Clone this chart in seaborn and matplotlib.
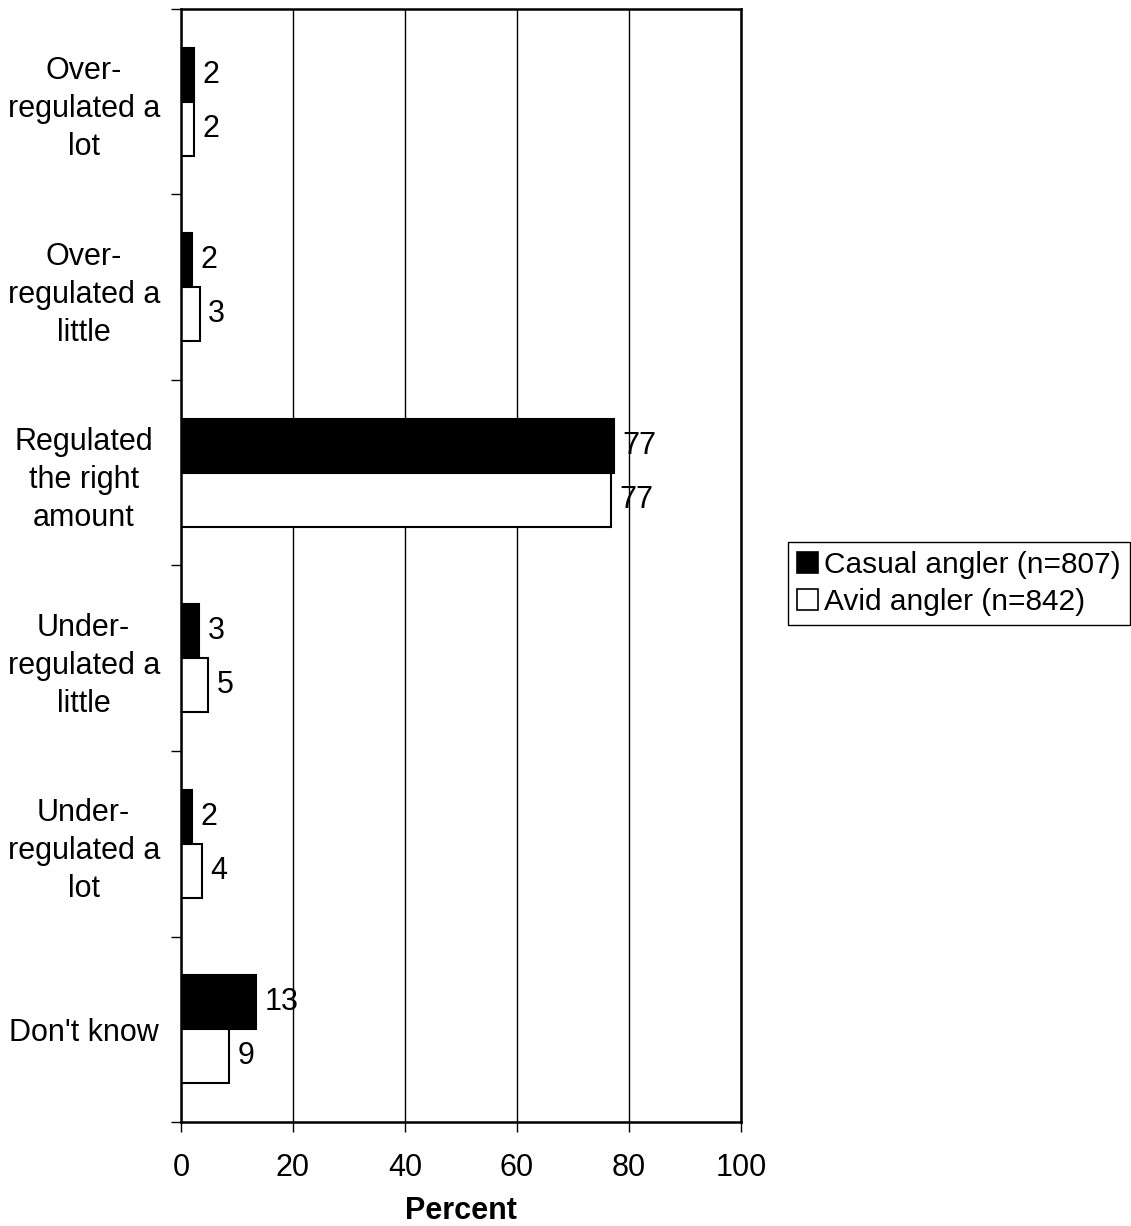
import pandas as pd
import numpy as np
import matplotlib
matplotlib.use('Agg')
import matplotlib.pyplot as plt
import seaborn as sns
from matplotlib.patches import Patch

sns.set_style("white")
plt.rcParams['font.family'] = ['Liberation Sans', 'DejaVu Sans']
plt.rcParams['text.color'] = 'black'
plt.rcParams['xtick.color'] = 'black'
plt.rcParams['ytick.color'] = 'black'
plt.rcParams['axes.labelcolor'] = 'black'

categories = ['Over-\nregulated a\nlot', 'Over-\nregulated a\nlittle', 'Regulated\nthe right\namount',
              'Under-\nregulated a\nlittle', 'Under-\nregulated a\nlot', "Don't know"]
casual = [2.4, 2.0, 77.4, 3.3, 2.0, 13.4]
avid = [2.4, 3.4, 76.9, 4.9, 3.7, 8.6]
groups = ['Casual angler (n=807)', 'Avid angler (n=842)']

df = pd.DataFrame({
    'cat': categories * 2,
    'val': casual + avid,
    'grp': [groups[0]] * len(categories) + [groups[1]] * len(categories),
})

fig = plt.figure(figsize=(11.31, 12.26), dpi=100)
ax = fig.add_axes([0.160, 0.0848, 0.495, 0.9079])

sns.barplot(data=df, x='val', y='cat', hue='grp', order=categories, hue_order=groups,
            palette=['black', 'white'], edgecolor='black', linewidth=1.5, width=0.58,
            orient='h', ax=ax, legend=False)

for cont in ax.containers:
    ax.bar_label(cont, fmt='%.0f', padding=6, fontsize=22, color='black')

ax.set_xlim(0, 100)
ax.set_ylim(len(categories) - 0.5, -0.5)
ax.set_xticks([0, 20, 40, 60, 80, 100])
ax.set_yticks(range(len(categories)))
ax.set_yticklabels(categories)
ax.set_yticks(np.arange(-0.5, len(categories), 1), minor=True)
ax.xaxis.grid(True, color='black', linewidth=1)
ax.set_axisbelow(True)

ax.tick_params(axis='x', which='major', length=7, width=1, direction='out', labelsize=22, pad=15,
               bottom=True, colors='black')
ax.tick_params(axis='y', which='major', length=0, labelsize=22, pad=70, colors='black')
ax.tick_params(axis='y', which='minor', length=7, width=1, direction='out', left=True, colors='black')
for lab in ax.get_yticklabels():
    lab.set_ha('center')
    lab.set_linespacing(1.35)

for sp in ax.spines.values():
    sp.set_visible(True)
    sp.set_color('black')
    sp.set_linewidth(1.8)

ax.set_xlabel('Percent', fontsize=22, fontweight='bold', labelpad=10, color='black')
ax.set_ylabel('')

handles = [Patch(facecolor='black', edgecolor='black', linewidth=1.2),
           Patch(facecolor='white', edgecolor='black', linewidth=1.2)]
fig.legend(handles, groups, loc='center left', bbox_to_anchor=(0.697, 0.524),
           bbox_transform=fig.transFigure, fontsize=21.5, frameon=True, fancybox=False,
           edgecolor='black', framealpha=1, handlelength=0.7, handleheight=0.7,
           handletextpad=0.2, borderpad=0.3, labelspacing=0.3, borderaxespad=0)

fig.savefig('out.png', dpi=100)
